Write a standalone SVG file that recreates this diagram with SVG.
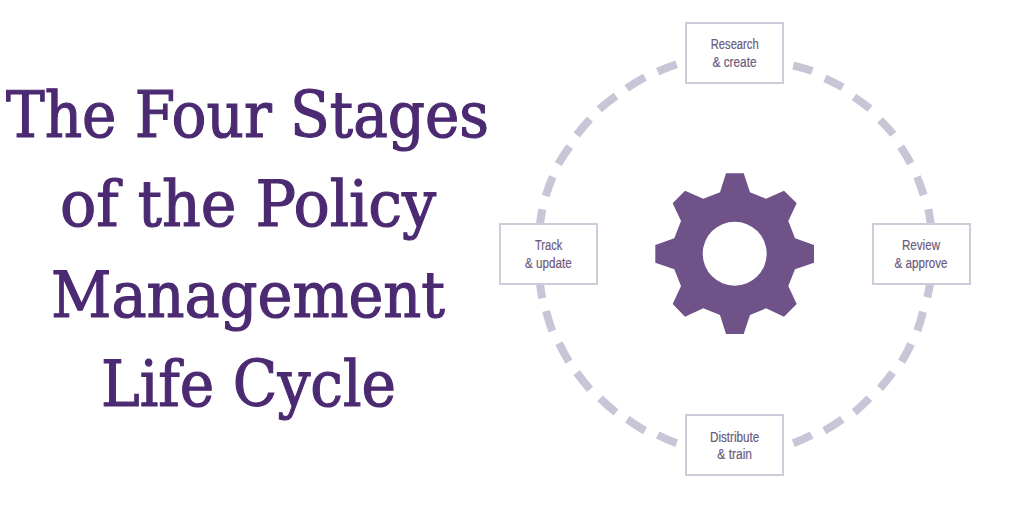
<svg xmlns="http://www.w3.org/2000/svg" width="1024" height="512" viewBox="0 0 1024 512">
<style>
.title{font-family:"DejaVu Serif","Liberation Serif",serif;font-stretch:condensed;font-size:63px;fill:#4b2a72;stroke:#4b2a72;stroke-width:1.1px}
.box{fill:#fff;stroke:#cfcbd8;stroke-width:2}
.lab{font-family:"Liberation Sans",Arial,sans-serif;font-size:14px;fill:#6a5b80;stroke:#6a5b80;stroke-width:.2px}
.dash{fill:none;stroke:#c9c4d6;stroke-width:8}
</style>
<rect width="1024" height="512" fill="#fff"/>
<g id="title">
<text class="title" x="6" y="136.5" textLength="483" lengthAdjust="spacingAndGlyphs">The Four Stages</text>
<text class="title" x="60" y="226" textLength="376" lengthAdjust="spacingAndGlyphs">of the Policy</text>
<text class="title" x="51" y="316.5" textLength="394" lengthAdjust="spacingAndGlyphs">Management</text>
<text class="title" x="101" y="406" textLength="295" lengthAdjust="spacingAndGlyphs">Life Cycle</text>
</g>
<g id="connectors">
<path class="dash" d="M793.3 65.7A196 196 0 0 1 812.3 71M825 78.3A196 196 0 0 1 842.7 87.3M854 97A196 196 0 0 1 870 108.7M880 120A196 196 0 0 1 893.3 134.3M900.7 146.7A196 196 0 0 1 910.7 163.3M917 176.7A196 196 0 0 1 923.7 195M928.3 209.3A196 196 0 0 1 930.7 224"/>
<path class="dash" d="M930 284A196 196 0 0 1 927.3 297.3M923 311.7A196 196 0 0 1 917.3 330.7M911 344A196 196 0 0 1 901.7 361.7M892.7 372.7A196 196 0 0 1 880 388.3M869.3 398.3A196 196 0 0 1 854.3 412.3M842.3 419.3A196 196 0 0 1 824.3 430.7M811.7 435A196 196 0 0 1 793.3 443.3"/>
<path class="dash" d="M676.7 64.3A196 196 0 0 0 657.7 71.7M645 77.3A196 196 0 0 0 626.7 88.3M616 96A196 196 0 0 0 599.3 109.3M590 119.3A196 196 0 0 0 576.7 135M569.7 146.7A196 196 0 0 0 558.3 164M552.7 176.7A196 196 0 0 0 545.7 196M542.3 209.3A196 196 0 0 0 540 224"/>
<path class="dash" d="M540 284A196 196 0 0 0 542.3 298.3M546 311A196 196 0 0 0 552.3 331M559 343.3A196 196 0 0 0 569 361.7M576.7 372.7A196 196 0 0 0 590 389.3M600 398.3A196 196 0 0 0 616 412.3M627.3 419.3A196 196 0 0 0 645 430.7M657.7 435A196 196 0 0 0 676.7 443.3"/>
</g>
<g id="gear">
<path fill="#6f5388" fill-rule="evenodd" d="M726 173.3H743.7L750 192.3L766 198.7L784 190.7L796.7 203.3L788.3 221L795 238.3L814 245V262.7L795 269.3L788.3 286L796.7 304L784 316.7L766 308.3L750 315L743.7 334H726L720 315L703.3 308.3L685 316.7L672.7 304L681 286L674.3 269.3L655.3 262.7V245L674.3 238.3L681 221L672.7 203.3L685 190.7L703.3 198.7L720 192.3ZM766.7 253.7A32 32 0 1 0 702.7 253.7A32 32 0 1 0 766.7 253.7Z"/>
</g>
<g id="node-research">
<rect class="box" x="686" y="23" width="97" height="60"/>
<text class="lab" x="710.7" y="49" textLength="48" lengthAdjust="spacingAndGlyphs">Research</text>
<text class="lab" x="712.5" y="66.5" textLength="44" lengthAdjust="spacingAndGlyphs">&amp; create</text>
</g>
<g id="node-review">
<rect class="box" x="873" y="224" width="97" height="60"/>
<text class="lab" x="902" y="250" textLength="38" lengthAdjust="spacingAndGlyphs">Review</text>
<text class="lab" x="894.5" y="267.5" textLength="53" lengthAdjust="spacingAndGlyphs">&amp; approve</text>
</g>
<g id="node-distribute">
<rect class="box" x="686" y="415" width="97" height="60"/>
<text class="lab" x="710" y="441.7" textLength="49.3" lengthAdjust="spacingAndGlyphs">Distribute</text>
<text class="lab" x="717.3" y="459" textLength="34.7" lengthAdjust="spacingAndGlyphs">&amp; train</text>
</g>
<g id="node-track">
<rect class="box" x="500" y="224" width="97" height="60"/>
<text class="lab" x="535" y="250" textLength="27.3" lengthAdjust="spacingAndGlyphs">Track</text>
<text class="lab" x="525" y="267.7" textLength="46.7" lengthAdjust="spacingAndGlyphs">&amp; update</text>
</g>
</svg>
